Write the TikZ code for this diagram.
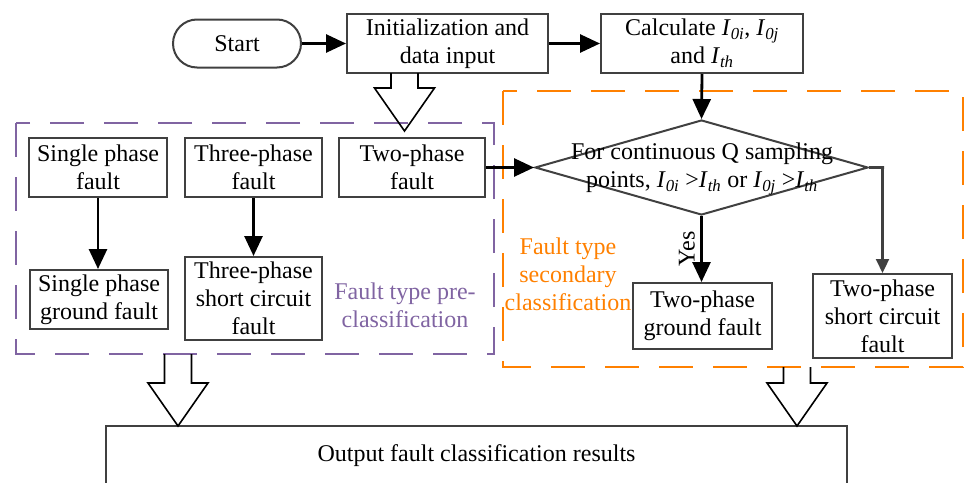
\documentclass[tikz,border=0pt]{standalone}
\usepackage{fontspec}
\setmainfont{Liberation Serif}
\usetikzlibrary{shapes.geometric,arrows.meta,calc}
\definecolor{boxline}{HTML}{404040}
\definecolor{prepurple}{HTML}{8064A2}
\definecolor{secorange}{HTML}{FF8000}
% current symbol with italic subscript
\newcommand\Isub[1]{\textit{I}\textsubscript{\textit{#1}}}
% hollow block arrow: centre x, shaft top, neck, tip
\newcommand\hollowarrow[4]{%
  \draw[blockarrow] ({#1-13.5},#2) -- ({#1-13.5},#3) -- ({#1-30},#3) -- (#1,#4)
    -- ({#1+30},#3) -- ({#1+13.5},#3) -- ({#1+13.5},#2);}
\begin{document}
\begin{tikzpicture}[x=1pt,y=-1pt,
  font=\fontsize{24}{28}\selectfont,
  box/.style={draw=boxline, line width=2pt, inner sep=0pt, align=center},
  flow/.style={line width=2.8pt, -{Triangle[length=20pt,width=18pt]}},
  thinflow/.style={draw=boxline, line width=2.2pt, -{Triangle[length=14pt,width=13pt]}},
  blockarrow/.style={draw=black, line width=1.6pt, line join=miter},
  group/.style={line width=2.2pt, dash pattern=on 34pt off 20pt}]
\useasboundingbox (0,0) rectangle (965,482);

% group frames
\draw[group, prepurple] (16,123) rectangle (494,354);
\draw[group, secorange] (503,91) rectangle (963,367);

% top row
\node[box, rounded corners=24pt, minimum width=128pt, minimum height=48pt] (start) at (237,43.5) {Start};
\node[box, minimum width=201pt, minimum height=59pt] (init) at (447.5,43.5) {Initialization and\\data input};
\node[box, minimum width=202pt, minimum height=59pt] (calc) at (702,43.5) {Calculate \Isub{0i}, \Isub{0j}\\and \Isub{th}};

% pre-classification
\node[box, minimum width=138pt, minimum height=59pt] (spf) at (98,167.5) {Single phase\\fault};
\node[box, minimum width=137pt, minimum height=59pt] (tpf3) at (253.5,167.5) {Three-phase\\fault};
\node[box, minimum width=146pt, minimum height=59pt] (tpf2) at (412,167.5) {Two-phase\\fault};
\node[box, minimum width=138pt, minimum height=59pt] (spg) at (99,299.5) {Single phase\\ground fault};
\node[box, minimum width=137pt, minimum height=83pt] (tsc3) at (253.5,298.5) {Three-phase\\short circuit\\fault};
\node[prepurple, align=center] (prelabel) at (405,305) {Fault type pre-\\classification};

% secondary classification
\node[draw=boxline, line width=2pt, diamond, inner sep=0pt, minimum width=333pt, minimum height=95pt] (dec) at (701.5,167.5) {};
\node[align=center] (dectext) at (702,169) {For continuous Q sampling\\points, \Isub{0i} >\Isub{th} or \Isub{0j} >\Isub{th}};
\node[box, minimum width=139pt, minimum height=66pt] (tpg) at (702.5,316) {Two-phase\\ground fault};
\node[box, minimum width=139pt, minimum height=84pt] (tsc2) at (882.5,316) {Two-phase\\short circuit\\fault};
\node[secorange, align=center] (seclabel) at (568,274) {Fault type\\secondary\\classification};

% result
\node[box, minimum width=741pt, minimum height=60pt] (out) at (476.5,456) {Output fault classification results};

% connectors
\draw[flow] (start.east) -- (init.west);
\draw[flow] (init.east) -- (calc.west);
\draw[flow] (calc.south) -- (dec.north);
\draw[flow] (tpf2.east) -- (dec.west);
\draw[flow] (spf.south) -- (spf.south |- spg.north);
\draw[flow] (tpf3.south) -- (tsc3.north);
\draw[flow] (dec.south) -- (dec.south |- tpg.north)
  node[midway, left=2pt, rotate=90, anchor=south] (yes) {Yes};
\draw[thinflow] (dec.east) -- ++(15,0) -| (tsc2.north);

% block arrows between stages
\hollowarrow{404.5}{73}{88}{131}
\hollowarrow{178}{354}{383}{426}
\hollowarrow{797}{367}{383}{426}
\end{tikzpicture}
\end{document}
